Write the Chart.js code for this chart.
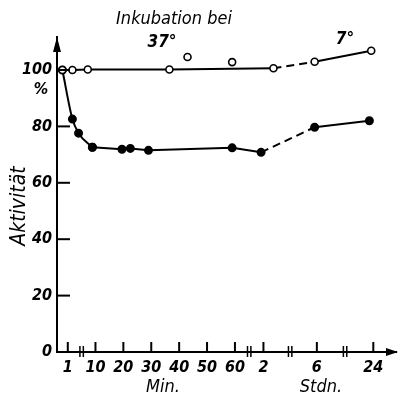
<!DOCTYPE html>
<html>
<head>
<meta charset="utf-8">
<script src="https://cdn.jsdelivr.net/npm/chart.js@4/dist/chart.umd.min.js"></script>
<style>
  html, body { margin: 0; padding: 0; background: #fff; }
  #wrap { width: 402px; height: 405px; }
</style>
</head>
<body>
<div id="wrap"><canvas id="myChart" width="402" height="405"></canvas></div>
<script>
// x tick labels and the times (minutes) they stand for
const tickLabels = ['1', '10', '20', '30', '40', '50', '60', '2', '6', '24']
const tickTimes = [1, 10, 20, 30, 40, 50, 60, 120, 360, 1440]
const yTicks = [0, 20, 40, 60, 80, 100]

// open circles (control), time in minutes
const openTime = [0.5, 2.5, 7.5, 36.5, 165, 350, 1400]
const openValue = [100, 100, 100.2, 100.2, 100.6, 102.9, 106.8]
// open circles not on the line
const strayTime = [43, 59]
const strayValue = [104.6, 102.8]
// filled circles
const filledTime = [0.5, 2.5, 4.5, 9, 19.5, 22.5, 29, 59, 115, 350, 1365]
const filledValue = [100, 82.6, 77.6, 72.6, 71.9, 72.2, 71.5, 72.4, 70.8, 79.7, 82.0]

// broken time axis: minutes -> axis units
const axisMin = [0, 1, 10, 60, 120, 360, 1440]
const axisUnit = [0, 3.9, 13.9, 64.3, 74.6, 93.9, 114.3]
function pos(t) {
    for (let i = 1; i < axisMin.length; i++) {
        if (t <= axisMin[i]) {
            const f = (t - axisMin[i - 1]) / (axisMin[i] - axisMin[i - 1])
            return axisUnit[i - 1] + f * (axisUnit[i] - axisUnit[i - 1])
        }
    }
    return axisUnit[axisUnit.length - 1]
}
const pts = (ts, vs) => ts.map((t, i) => ({ x: pos(t), y: vs[i], t: t }))

const FONT = "'Liberation Sans Narrow', 'DejaVu Sans Condensed', sans-serif"
// dashed bit where incubation switches from 37° to 7°
const dashSeg = ctx => (ctx.p0.raw.t < 300 && ctx.p1.raw.t >= 300) ? [8, 5] : undefined

const decor = {
    id: 'decor',
    afterDraw(chart) {
        const c = chart.ctx
        const xs = chart.scales.x, ys = chart.scales.y
        const a = chart.chartArea
        c.save()
        c.strokeStyle = '#000'
        c.fillStyle = '#000'
        c.lineWidth = 2
        // y ticks pointing inward
        yTicks.slice(1).forEach(v => {
            const y = ys.getPixelForValue(v)
            c.beginPath(); c.moveTo(a.left, y); c.lineTo(a.left + 13, y); c.stroke()
        })
        // x ticks pointing up
        tickTimes.forEach(t => {
            const x = xs.getPixelForValue(pos(t))
            c.beginPath(); c.moveTo(x, a.bottom); c.lineTo(x, a.bottom - 10); c.stroke()
        })
        // axis breaks
        c.lineWidth = 1.5
        ;[0, 6, 7, 8].forEach(i => {
            const x = (xs.getPixelForValue(pos(tickTimes[i])) + xs.getPixelForValue(pos(tickTimes[i + 1]))) / 2
            ;[-1.7, 1.7].forEach(d => {
                c.beginPath(); c.moveTo(x + d, a.bottom - 6); c.lineTo(x + d, a.bottom + 5); c.stroke()
            })
        })
        // arrows
        c.beginPath()
        c.moveTo(a.left, a.top); c.lineTo(a.left - 4, a.top + 15); c.lineTo(a.left + 4, a.top + 15)
        c.closePath(); c.fill()
        c.beginPath()
        c.moveTo(a.right + 2, a.bottom); c.lineTo(a.right - 10, a.bottom - 4); c.lineTo(a.right - 10, a.bottom + 4)
        c.closePath(); c.fill()
        // texts
        c.textAlign = 'center'
        c.textBaseline = 'middle'
        c.font = 'italic 18px ' + FONT
        c.fillText('Inkubation bei', 174, 19)
        c.fillText('Min.', 163, 387)
        c.fillText('Stdn.', 321, 387)
        c.font = 'bold italic 17px ' + FONT
        c.fillText('37°', 162, 43)
        c.fillText('7°', 345, 40)
        c.font = 'bold italic 16px ' + FONT
        c.fillText('%', 41, 90)
        c.save()
        c.translate(20, 206)
        c.rotate(-Math.PI / 2)
        c.font = 'italic 21px ' + FONT
        c.fillText('Aktivität', 0, 0)
        c.restore()
        c.restore()
    }
}

const filled = pts(filledTime, filledValue)
const filledStyle = {
    showLine: true,
    borderColor: '#000',
    borderWidth: 2,
    pointRadius: 3.5,
    pointBackgroundColor: '#000',
    pointBorderColor: '#000',
    segment: { borderDash: dashSeg }
}

const chart = new Chart(document.getElementById('myChart').getContext('2d'), {
    type: 'scatter',
    data: {
        datasets: [
            {
                label: 'offen',
                data: pts(openTime, openValue),
                showLine: true,
                borderColor: '#000',
                borderWidth: 2,
                pointRadius: 3.5,
                pointBorderWidth: 1.6,
                pointBackgroundColor: '#fff',
                pointBorderColor: '#000',
                segment: { borderDash: dashSeg }
            },
            {
                label: 'offen, einzeln',
                data: pts(strayTime, strayValue),
                pointRadius: 3.5,
                pointBorderWidth: 1.6,
                pointBackgroundColor: '#fff',
                pointBorderColor: '#000'
            },
            // the fast drop is a smooth curve, the rest straight
            Object.assign({ label: 'gefüllt (Abfall)', data: filled.slice(0, 4), cubicInterpolationMode: 'monotone' }, filledStyle),
            Object.assign({ label: 'gefüllt', data: filled.slice(3) }, filledStyle)
        ]
    },
    options: {
        responsive: false,
        animation: false,
        layout: { padding: { left: 0, top: 37, right: 2, bottom: 0 } },
        plugins: { legend: { display: false }, tooltip: { enabled: false } },
        scales: {
            x: {
                type: 'linear',
                min: 0,
                max: 122.5,
                afterFit: s => { s.height = 53 },
                afterBuildTicks: s => { s.ticks = tickTimes.map(t => ({ value: pos(t) })) },
                grid: { display: false, drawTicks: false },
                border: { display: true, color: '#000', width: 2 },
                ticks: {
                    padding: 6,
                    autoSkip: false,
                    maxRotation: 0,
                    color: '#000',
                    font: { family: FONT, size: 16, style: 'italic', weight: 'bold' },
                    callback: (v, i) => tickLabels[i]
                }
            },
            y: {
                min: 0,
                max: 111.7,
                afterFit: s => { s.width = 57 },
                afterBuildTicks: s => { s.ticks = yTicks.map(v => ({ value: v })) },
                grid: { display: false, drawTicks: false },
                border: { display: true, color: '#000', width: 2 },
                ticks: {
                    padding: 5,
                    color: '#000',
                    font: { family: FONT, size: 16, style: 'italic', weight: 'bold' }
                }
            }
        }
    },
    plugins: [decor]
})
</script>
</body>
</html>
